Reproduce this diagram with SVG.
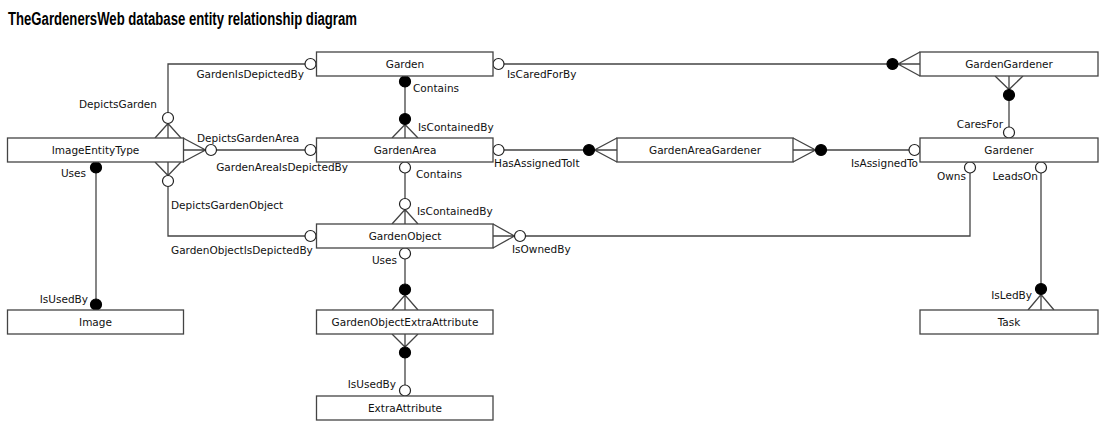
<svg xmlns="http://www.w3.org/2000/svg" width="1108" height="429" viewBox="0 0 1108 429">
<style>
.box{fill:#fff;stroke:#444;stroke-width:1.3}
.ln{fill:none;stroke:#444;stroke-width:1.3}
.o{fill:#fff;stroke:#222;stroke-width:1.2}
.f{fill:#000;stroke:#000;stroke-width:1.2}
text{font-family:"DejaVu Sans","Liberation Sans",sans-serif;font-size:10.5px;fill:#111}
.nm{text-anchor:middle}
.e{text-anchor:end}
.title{font-family:"Liberation Sans Narrow","Liberation Sans",sans-serif;font-size:18px;font-weight:bold;fill:#000}
</style>
<rect width="1108" height="429" fill="#fff"/>
<text class="title" x="8" y="25" textLength="349" lengthAdjust="spacingAndGlyphs">TheGardenersWeb database entity relationship diagram</text>

<g id="connectors">
  <!-- Garden - ImageEntityType -->
  <path class="ln" d="M305,64 H168 V112.5 M155,138 L168,123.5 L181,138 M168,123.5 V138"/>
  <circle class="o" cx="310.5" cy="64" r="5.5"/>
  <circle class="o" cx="168" cy="118" r="5.5"/>
  <text class="e" x="304" y="78">GardenIsDepictedBy</text>
  <text class="e" x="157" y="108">DepictsGarden</text>
  <!-- GardenArea - ImageEntityType -->
  <path class="ln" d="M305,150 H216.5 M183,138 L205.5,150 L183,162 M183,150 H205.5"/>
  <circle class="o" cx="310.5" cy="150" r="5.5"/>
  <circle class="o" cx="211" cy="150" r="5.5"/>
  <text x="197" y="142">DepictsGardenArea</text>
  <text class="e" x="348" y="171">GardenAreaIsDepictedBy</text>
  <!-- ImageEntityType - GardenObject -->
  <path class="ln" d="M155,162 L168,175.5 L181,162 M168,162 V175.5 M168,186.5 V236 H305"/>
  <circle class="o" cx="168" cy="181" r="5.5"/>
  <circle class="o" cx="310.5" cy="236" r="5.5"/>
  <text x="171" y="209">DepictsGardenObject</text>
  <text x="171" y="254">GardenObjectIsDepictedBy</text>
  <!-- ImageEntityType - Image -->
  <path class="ln" d="M96,173 V299"/>
  <circle class="f" cx="96" cy="167.5" r="5.5"/>
  <circle class="f" cx="96" cy="304.5" r="5.5"/>
  <text class="e" x="86" y="176.5">Uses</text>
  <text class="e" x="88" y="303">IsUsedBy</text>
  <!-- Garden - GardenArea -->
  <path class="ln" d="M405,87 V113.5 M392,138 L405,124.5 L418,138 M405,124.5 V138"/>
  <circle class="f" cx="405" cy="81.5" r="5.5"/>
  <circle class="f" cx="405" cy="119" r="5.5"/>
  <text x="413" y="92">Contains</text>
  <text x="418" y="131">IsContainedBy</text>
  <!-- GardenArea - GardenObject -->
  <path class="ln" d="M405,173 V198.5 M392,224 L405,209.5 L418,224 M405,209.5 V224"/>
  <circle class="o" cx="405" cy="167.5" r="5.5"/>
  <circle class="o" cx="405" cy="204" r="5.5"/>
  <text x="416" y="177.5">Contains</text>
  <text x="417" y="215">IsContainedBy</text>
  <!-- GardenObject - GardenObjectExtraAttribute -->
  <path class="ln" d="M405,259 V284 M392,310 L405,295 L418,310 M405,295 V310"/>
  <circle class="o" cx="405" cy="253.5" r="5.5"/>
  <circle class="f" cx="405" cy="289.5" r="5.5"/>
  <text class="e" x="397" y="263.5">Uses</text>
  <!-- GardenObjectExtraAttribute - ExtraAttribute -->
  <path class="ln" d="M392,334 L405,347 L418,334 M405,334 V347 M405,358 V385"/>
  <circle class="f" cx="405" cy="352.5" r="5.5"/>
  <circle class="o" cx="405" cy="390.5" r="5.5"/>
  <text class="e" x="396" y="387.5">IsUsedBy</text>
  <!-- GardenObject - Gardener -->
  <path class="ln" d="M493,224 L514.5,236 L493,248 M493,236 H514.5 M525.5,236 H970 V173"/>
  <circle class="o" cx="520" cy="236" r="5.5"/>
  <circle class="o" cx="970" cy="167.5" r="5.5"/>
  <text x="512" y="253">IsOwnedBy</text>
  <text class="e" x="966" y="180">Owns</text>
  <!-- Gardener - Task -->
  <path class="ln" d="M1041,173 V283.5 M1028,310 L1041,294.5 L1054,310 M1041,294.5 V310"/>
  <circle class="o" cx="1041" cy="167.5" r="5.5"/>
  <circle class="f" cx="1041" cy="289" r="5.5"/>
  <text class="e" x="1038" y="180">LeadsOn</text>
  <text class="e" x="1032" y="299">IsLedBy</text>
  <!-- Garden - GardenGardener -->
  <path class="ln" d="M504,64 H887 M920,52 L898,64 L920,76 M898,64 H920"/>
  <circle class="o" cx="498.5" cy="64" r="5.5"/>
  <circle class="f" cx="892.5" cy="64" r="5.5"/>
  <text x="507" y="77.5">IsCaredForBy</text>
  <!-- GardenGardener - Gardener -->
  <path class="ln" d="M995,76 L1009,89.5 L1023,76 M1009,76 V89.5 M1009,100.5 V127"/>
  <circle class="f" cx="1009" cy="95" r="5.5"/>
  <circle class="o" cx="1009" cy="132.5" r="5.5"/>
  <text class="e" x="1003" y="127.5">CaresFor</text>
  <!-- GardenArea - GardenAreaGardener -->
  <path class="ln" d="M504,150 H583.5 M617,138 L594.5,150 L617,162 M594.5,150 H617"/>
  <circle class="o" cx="498.5" cy="150" r="5.5"/>
  <circle class="f" cx="589" cy="150" r="5.5"/>
  <text x="494" y="167">HasAssignedToIt</text>
  <!-- GardenAreaGardener - Gardener -->
  <path class="ln" d="M793,138 L815.5,150 L793,162 M793,150 H815.5 M826.5,150 H909"/>
  <circle class="f" cx="821" cy="150" r="5.5"/>
  <circle class="o" cx="914.5" cy="150" r="5.5"/>
  <text class="e" x="918" y="167">IsAssignedTo</text>
</g>

<g id="Garden"><rect class="box" x="316.5" y="52" width="176.5" height="24"/><text class="nm" x="405" y="67.8">Garden</text></g>
<g id="GardenGardener"><rect class="box" x="920" y="52" width="178" height="24"/><text class="nm" x="1009" y="67.8">GardenGardener</text></g>
<g id="ImageEntityType"><rect class="box" x="7.5" y="138" width="176" height="24"/><text class="nm" x="95.5" y="153.8">ImageEntityType</text></g>
<g id="GardenArea"><rect class="box" x="316.5" y="138" width="176.5" height="24"/><text class="nm" x="405" y="153.8">GardenArea</text></g>
<g id="GardenAreaGardener"><rect class="box" x="617" y="138" width="176" height="24"/><text class="nm" x="705" y="153.8">GardenAreaGardener</text></g>
<g id="Gardener"><rect class="box" x="920" y="138" width="178" height="24"/><text class="nm" x="1009" y="153.8">Gardener</text></g>
<g id="GardenObject"><rect class="box" x="316.5" y="224" width="176.5" height="24"/><text class="nm" x="405" y="239.8">GardenObject</text></g>
<g id="Image"><rect class="box" x="7.5" y="310" width="176" height="24"/><text class="nm" x="95.5" y="325.8">Image</text></g>
<g id="GardenObjectExtraAttribute"><rect class="box" x="316.5" y="310" width="176.5" height="24"/><text class="nm" x="405" y="325.8">GardenObjectExtraAttribute</text></g>
<g id="Task"><rect class="box" x="920" y="310" width="178" height="24"/><text class="nm" x="1009" y="325.8">Task</text></g>
<g id="ExtraAttribute"><rect class="box" x="316.5" y="396" width="176.5" height="24"/><text class="nm" x="405" y="411.8">ExtraAttribute</text></g>
</svg>
